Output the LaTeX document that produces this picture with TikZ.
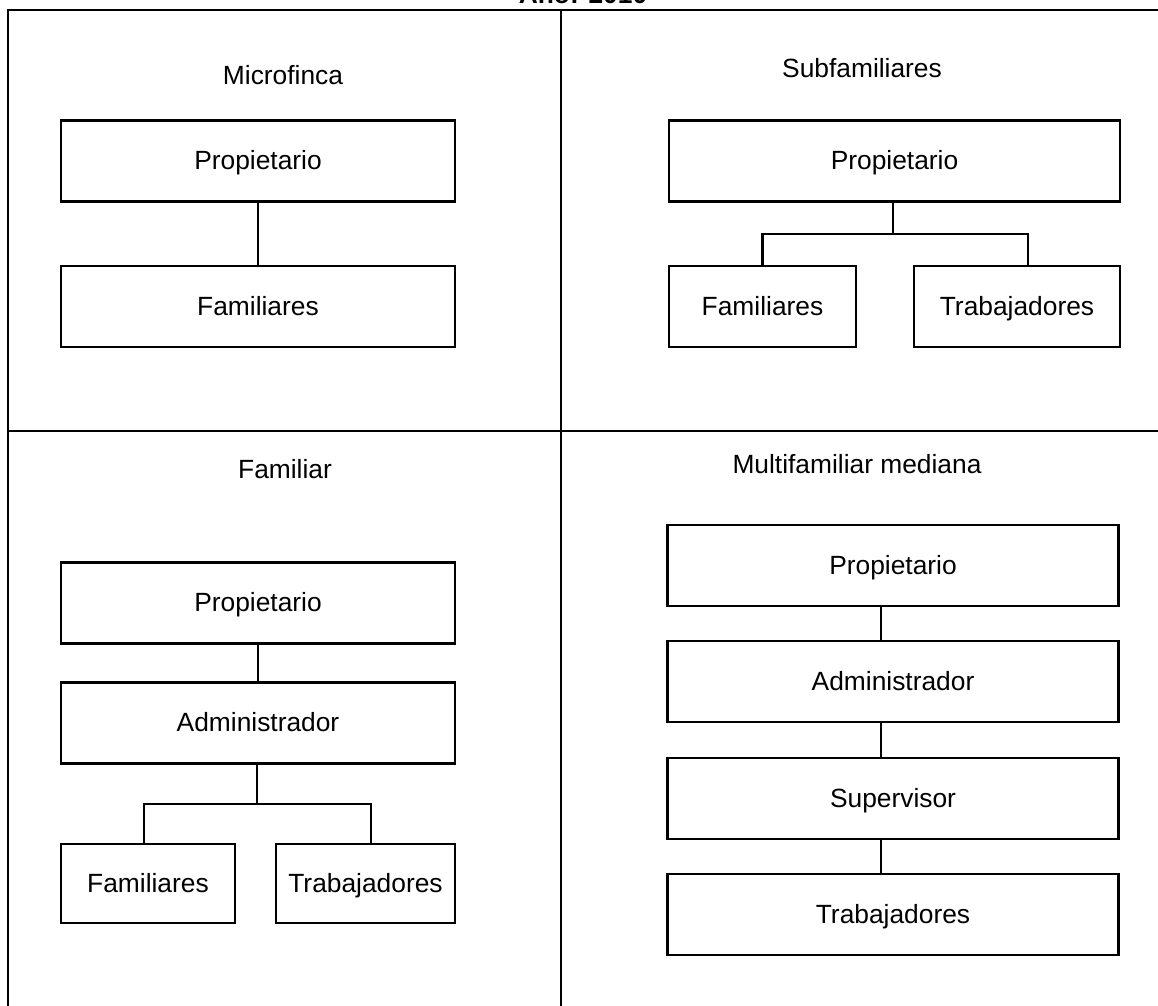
\documentclass[tikz,border=0pt]{standalone}
\usepackage{fontspec}
\setmainfont{Liberation Sans}
\tikzset{>=stealth}
\tikzset{caja/.style={draw, line width=1.4pt, minimum height=1.62cm, inner sep=0pt, text height=2.3ex, text depth=0.45ex},
  ancha/.style={caja, minimum width=7.88cm},
  anchaR/.style={caja, minimum width=9.02cm},
  linea/.style={line width=1.4pt},
  marco/.style={line width=1.4pt}}

\begin{document}
\begin{tikzpicture}[x=0.02cm, y=-0.02cm, font=\fontsize{15}{18}\selectfont]
    \useasboundingbox (0,0) rectangle (1158,1006);
    \node[anchor=base, font=\fontsize{15}{18}\selectfont\bfseries] (titulo) at (583,4) {Año: 2010};
    \draw[marco] (8,1006) -- (8,10) -- (1158,10);
    \draw[marco] (561,10) -- (561,1006);
    \draw[marco] (8,431) -- (1158,431);
    % Microfinca
    \node (tmf) at (283,75) {Microfinca};
    \node[ancha] (mp) at (258,161) {Propietario};
    \node[ancha] (mf) at (258,306.5) {Familiares};
    \draw[linea] (mp) -- (mf);
    % Subfamiliares
    \node (tsf) at (862,68) {Subfamiliares};
    \node[anchaR] (sp) at (894.5,161) {Propietario};
    \node[caja, minimum width=3.74cm] (sf) at (762.5,306.5) {Familiares};
    \node[caja, minimum width=4.12cm] (st) at (1017,306.5) {Trabajadores};
    \coordinate (sj) at (893,234);
    \draw[linea] (sp.south -| sj) -- (sj);
    \draw[linea] (sf.north) |- (sj) -| ([xshift=0.22cm]st.north);
    % Familiar
    \node (tfa) at (285,469) {Familiar};
    \node[ancha] (fp) at (258,603) {Propietario};
    \node[ancha] (fa) at (258,723) {Administrador};
    \node[caja, minimum width=3.48cm, minimum height=1.58cm] (ff) at (148,883.5) {Familiares};
    \node[caja, minimum width=3.58cm, minimum height=1.58cm] (ft) at (365.5,883.5) {Trabajadores};
    \coordinate (fj) at (257,804);
    \draw[linea] (fp) -- (fa);
    \draw[linea] (fa.south -| fj) -- (fj);
    \draw[linea] ([xshift=-0.08cm]ff.north) |- (fj) -| ([xshift=0.11cm]ft.north);
    % Multifamiliar mediana
    \node (tmm) at (857,464) {Multifamiliar mediana};
    \node[anchaR] (np) at (893,565.5) {Propietario};
    \node[anchaR] (na) at (893,681.5) {Administrador};
    \node[anchaR] (ns) at (893,798.5) {Supervisor};
    \node[anchaR] (nt) at (893,914.5) {Trabajadores};
    \coordinate (nx) at (881,0);
    \draw[linea] (np.south -| nx) -- (na.north -| nx) (na.south -| nx) -- (ns.north -| nx) (ns.south -| nx) -- (nt.north -| nx);
\end{tikzpicture}
\end{document}
